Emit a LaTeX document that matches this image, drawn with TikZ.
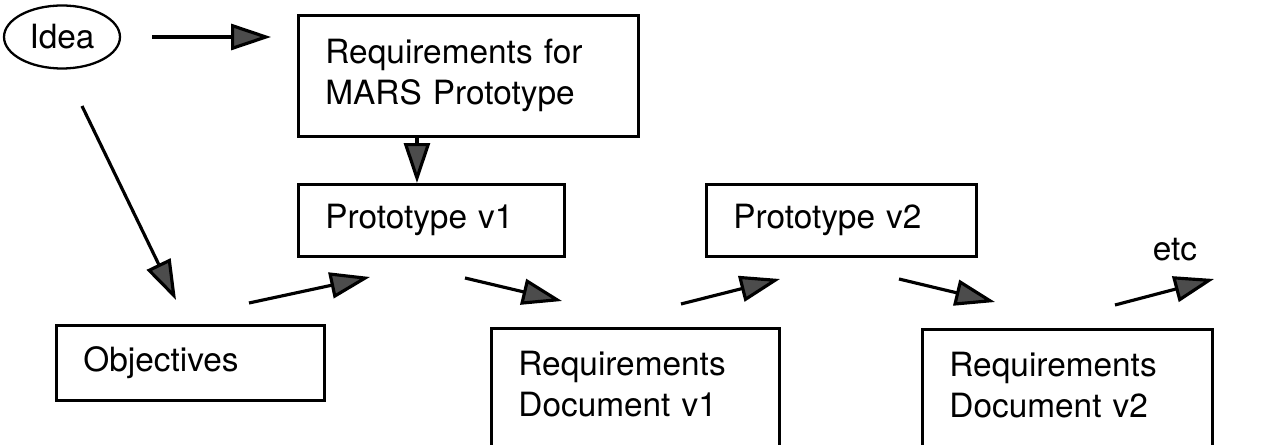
\documentclass[tikz,border=0pt]{standalone}
\usepackage{fontspec}
\setmainfont{TeX Gyre Heros}
\usepackage{tikz}
\usetikzlibrary{positioning,arrows.meta,calc,shapes.geometric}

\begin{document}
\begin{tikzpicture}[
    x=0.02cm,y=-0.02cm,
    every node/.style={font=\fontsize{19}{23.3}\selectfont},
    box/.style={draw,line width=1.6pt,anchor=north west,align=left,inner xsep=0.54cm,text width=#1},
    arr/.style={-{Triangle[length=0.8cm,width=0.52cm,fill=black!70]},line width=1.8pt}
  ]
    \clip[use as bounding box] (0,0) rectangle (1274,445);
    \node[draw,ellipse,line width=1.3pt,minimum width=2.32cm,minimum height=1.26cm] (idea) at (62,37) {Idea};
    \node[box=5.72cm,minimum height=2.42cm] (req) at (297,14) {Requirements for\\MARS Prototype};
    \node[box=4.24cm,minimum height=1.44cm] (v1) at (297,183) {Prototype v1};
    \node[box=4.32cm,minimum height=1.44cm] (v2) at (705,183) {Prototype v2};
    \node[box=4.28cm,minimum height=1.5cm] (obj) at (55,324) {Objectives};
    \node[box=4.68cm,inner ysep=0.46cm] (doc1) at (490,327) {Requirements\\Document v1\rule[-3cm]{0pt}{0pt}};
    \node[box=4.72cm,inner ysep=0.46cm] (doc2) at (921,328) {Requirements\\Document v2\rule[-3cm]{0pt}{0pt}};
    \node (etc) at (1175,250) {etc};
    \coordinate (idea-o) at (82,106);
    \coordinate (obj-i) at (176,300);
    \coordinate (obj-o) at (249,303);
    \coordinate (v1-i) at (370,277);
    \coordinate (v1-o) at (465,278);
    \coordinate (doc1-i) at (562,301);
    \coordinate (doc1-o) at (681,304);
    \coordinate (v2-i) at (780,279);
    \coordinate (v2-o) at (899,279);
    \coordinate (doc2-i) at (995,302);
    \coordinate (doc2-o) at (1115,305);
    \coordinate (etc-i) at (1214,279);
    \coordinate (req-down) at ($(req.south west)!0.35!(req.south east)$);
    \draw[arr] ([xshift=0.62cm]idea.east) -- ([xshift=-0.52cm]idea.east -| req.west);
    \draw[arr] (req-down) -- (req-down |- v1.north);
    \draw[arr] (idea-o) -- (obj-i);
    \draw[arr] (obj-o) -- (v1-i);
    \draw[arr] (v1-o) -- (doc1-i);
    \draw[arr] (doc1-o) -- (v2-i);
    \draw[arr] (v2-o) -- (doc2-i);
    \draw[arr] (doc2-o) -- (etc-i);
  \end{tikzpicture}
\end{document}
